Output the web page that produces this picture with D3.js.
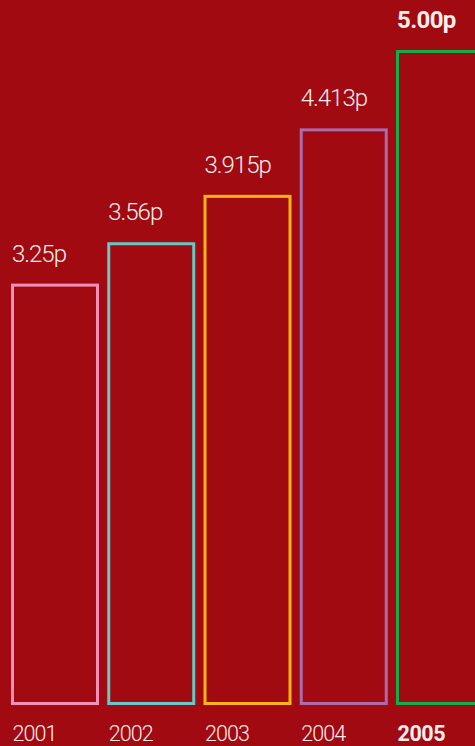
<!DOCTYPE html>
<html>
<head>
<meta charset="utf-8">
<script src="https://cdn.jsdelivr.net/npm/d3@7"></script>
<style>
  html, body { margin: 0; padding: 0; background: #a00a10; }
  svg { display: block; }
  text { font-family: Roboto, "Open Sans", sans-serif; fill: #fbeeee; }
</style>
</head>
<body>
<svg id="chart" width="475" height="746"></svg>
<script>
// Dividend per share by year
const years = ["2001", "2002", "2003", "2004", "2005"];
const values = [3.25, 3.56, 3.915, 4.413, 5.00];
const valueLabels = ["3.25p", "3.56p", "3.915p", "4.413p", "5.00p"];
const colors = ["#f48fb8", "#66c9c6", "#fdb515", "#ab6cae", "#12ad48"];
const highlightYear = "2005";

const W = 475, H = 746;
const baseline = 703.5;
const strokeW = 3;

const svg = d3.select("#chart");

svg.append("rect")
  .attr("width", W).attr("height", H)
  .attr("fill", "#a00a10");

const x = d3.scaleBand()
  .domain(years)
  .range([12.5, 482.5])
  .paddingInner(0.117)
  .paddingOuter(0);

const y = d3.scaleLinear()
  .domain([0, 5])
  .range([719, 51.5]);

const data = years.map((yr, i) => ({
  year: yr, value: values[i], label: valueLabels[i], color: colors[i]
}));

// Outlined bars
svg.selectAll("rect.bar")
  .data(data)
  .join("rect")
  .attr("class", "bar")
  .attr("x", d => x(d.year))
  .attr("y", d => y(d.value))
  .attr("width", x.bandwidth())
  .attr("height", d => baseline - y(d.value))
  .attr("fill", "none")
  .attr("stroke", d => d.color)
  .attr("stroke-width", strokeW);

// Value labels above bars
svg.selectAll("text.value")
  .data(data)
  .join("text")
  .attr("class", "value")
  .attr("x", d => x(d.year) - 0.5)
  .attr("y", d => y(d.value) - 23.5)
  .attr("font-size", 24)
  .attr("font-weight", d => d.year === highlightYear ? 700 : 300)
  .attr("letter-spacing", d => d.year === highlightYear ? -0.6 : -1)
  .text(d => d.label);

// Year labels along the bottom
const xAxis = svg.append("g").attr("class", "x-axis");
xAxis.selectAll("text")
  .data(years)
  .join("text")
  .attr("x", d => x(d))
  .attr("y", 740.5)
  .attr("font-size", 21.5)
  .attr("font-weight", d => d === highlightYear ? 700 : 300)
  .attr("letter-spacing", d => d === highlightYear ? -0.4 : -0.9)
  .text(d => d);
</script>
</body>
</html>
